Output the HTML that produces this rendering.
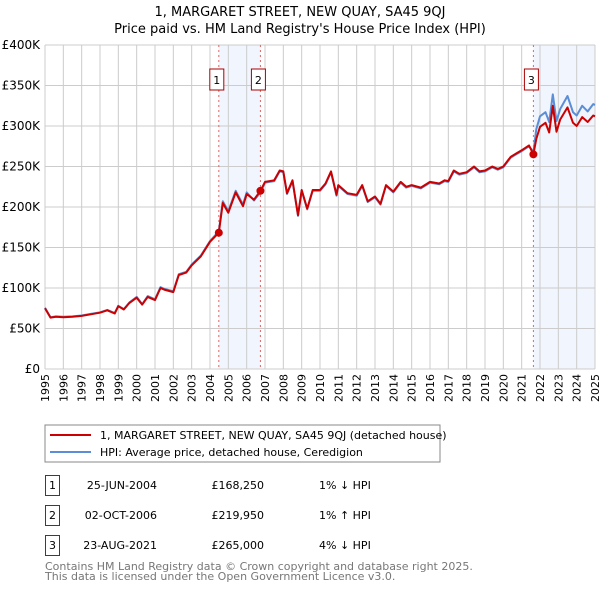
<!DOCTYPE html>
<html><head><meta charset="utf-8"><style>
body{margin:0;background:#fff;font-family:"DejaVu Sans","Liberation Sans",sans-serif;}
svg text{font-family:"DejaVu Sans","Liberation Sans",sans-serif;}
</style></head><body>
<svg id="chart" width="600" height="590" viewBox="0 0 600 590" xmlns="http://www.w3.org/2000/svg">
<text x="300" y="16" text-anchor="middle" font-size="13">1, MARGARET STREET, NEW QUAY, SA45 9QJ</text>
<text x="300" y="33" text-anchor="middle" font-size="13">Price paid vs. HM Land Registry's House Price Index (HPI)</text>
<g id="plot"></g>
<g>
<rect x="45" y="425" width="395" height="37" fill="#fff" stroke="#888" stroke-width="1"/>
<line x1="50" y1="435" x2="91" y2="435" stroke="#cc0000" stroke-width="2"/>
<text x="100" y="439" font-size="11">1, MARGARET STREET, NEW QUAY, SA45 9QJ (detached house)</text>
<line x1="50" y1="452" x2="91" y2="452" stroke="#5b8ed6" stroke-width="2"/>
<text x="100" y="456" font-size="11">HPI: Average price, detached house, Ceredigion</text>
</g>
<g font-size="11">
<rect x="45.5" y="475.5" width="14" height="20" fill="none" stroke="#cc0000"/><text x="52.5" y="489" text-anchor="middle">1</text>
<text x="157" y="489" text-anchor="end">25-JUN-2004</text><text x="264" y="489" text-anchor="end">£168,250</text><text x="319" y="489">1% ↓ HPI</text>
<rect x="45.5" y="505.5" width="14" height="20" fill="none" stroke="#cc0000"/><text x="52.5" y="519" text-anchor="middle">2</text>
<text x="157" y="519" text-anchor="end">02-OCT-2006</text><text x="264" y="519" text-anchor="end">£219,950</text><text x="319" y="519">1% ↑ HPI</text>
<rect x="45.5" y="535.5" width="14" height="20" fill="none" stroke="#cc0000"/><text x="52.5" y="549" text-anchor="middle">3</text>
<text x="157" y="549" text-anchor="end">23-AUG-2021</text><text x="264" y="549" text-anchor="end">£265,000</text><text x="319" y="549">4% ↓ HPI</text>
</g>
<text x="45" y="570" font-size="11" fill="#777">Contains HM Land Registry data © Crown copyright and database right 2025.</text>
<text x="45" y="580" font-size="11" fill="#777">This data is licensed under the Open Government Licence v3.0.</text>
</svg>
<script>
const yTicks=[0,50000,100000,150000,200000,250000,300000,350000,400000];
const yTickLabels=["£0","£50K","£100K","£150K","£200K","£250K","£300K","£350K","£400K"];
const xYears=[1995,1996,1997,1998,1999,2000,2001,2002,2003,2004,2005,2006,2007,2008,2009,2010,2011,2012,2013,2014,2015,2016,2017,2018,2019,2020,2021,2022,2023,2024,2025];
const saleDates=[2004.48,2006.75,2021.64];
const salePrices=[168250,219950,265000];
const saleLabels=["1","2","3"];
const hpiYears=[1995,1995.3,1995.6,1996,1996.5,1997,1997.5,1998,1998.4,1998.8,1999,1999.3,1999.6,2000,2000.3,2000.6,2001,2001.3,2001.5,2002,2002.3,2002.7,2003,2003.5,2004,2004.48,2004.7,2005,2005.4,2005.8,2006,2006.4,2006.75,2007,2007.5,2007.8,2008,2008.2,2008.5,2008.8,2009,2009.3,2009.6,2010,2010.3,2010.6,2010.9,2011,2011.5,2012,2012.3,2012.6,2013,2013.3,2013.6,2014,2014.4,2014.7,2015,2015.5,2016,2016.5,2016.8,2017,2017.3,2017.6,2018,2018.4,2018.7,2019,2019.4,2019.7,2020,2020.4,2020.7,2021,2021.4,2021.64,2021.8,2022,2022.3,2022.5,2022.7,2022.9,2023.1,2023.5,2023.8,2024,2024.3,2024.6,2024.9,2025];
const hpiValues=[75500,64000,65000,64500,65000,66000,68000,70000,73000,69000,78000,74000,82000,89000,80000,90000,86000,101000,99000,96000,117000,120000,129000,140000,158000,170000,207000,195000,220000,203000,218000,208000,218000,230000,232000,244000,243000,216000,232000,189000,220000,197000,220000,220000,228000,243000,214000,226000,216000,214000,226000,206000,212000,203000,226000,218000,230000,224000,226000,223000,230000,228000,232000,231000,244000,240000,242000,249000,243000,244000,249000,246000,249000,261000,265000,269000,275000,268000,296000,312000,317000,305000,339000,306000,321000,337000,317000,313000,325000,318000,327000,326000];
const priceValues=[75000,63500,64500,64000,64500,65500,67500,69500,72500,68500,77500,73500,81500,88000,79500,89000,85000,100000,98000,95000,116000,119000,128000,139000,157000,168250,205000,193000,218000,201000,216000,209000,219950,231000,233000,245000,244000,217000,233000,190000,221000,198000,221000,221000,229000,244000,215000,227000,217000,215000,227000,207000,213000,204000,227000,219000,231000,225000,227000,224000,231000,229000,233000,232000,245000,241000,243000,250000,244000,245000,250000,247000,250000,262000,266000,270000,276000,265000,284000,299000,304000,292000,325000,293000,308000,323000,304000,300000,311000,305000,313000,312000];

const NS="http://www.w3.org/2000/svg";
const L=45,R=595,T=45,B=369;
function xs(v){return L+(v-1995)/(2025-1995)*(R-L);}
function ys(v){return B-v/400000*(B-T);}
const g=document.getElementById('plot');
function mk(tag,attrs){const e=document.createElementNS(NS,tag);for(const k in attrs)e.setAttribute(k,attrs[k]);return e;}
for(let i=0;i<saleDates.length;i++){
  const end=i===0?saleDates[1]:(i===1?null:2025);
  if(end===null)continue;
  const b=mk('rect',{x:xs(saleDates[i]),y:T,width:xs(end)-xs(saleDates[i]),height:B-T,fill:'#eef3fc',opacity:0.8});
  
  
  g.appendChild(b);
}
yTicks.forEach((v,i)=>{
  const l=mk('line',{x1:L,x2:R,y1:ys(v),y2:ys(v),stroke:'#cccccc','stroke-width':1});
  
  
  g.appendChild(l);
  const t=mk('text',{x:L-5,y:ys(v)+4,'text-anchor':'end','font-size':12});
  
  
  t.textContent=yTickLabels[i];g.appendChild(t);
});
xYears.forEach(yr=>{
  const l=mk('line',{x1:xs(yr),x2:xs(yr),y1:T,y2:B,stroke:'#cccccc','stroke-width':1});
  
  
  g.appendChild(l);
  const tx=xs(yr)+4,ty=B+5;
  const t=mk('text',{x:tx,y:ty,'text-anchor':'end','font-size':11,transform:'rotate(-90 '+tx+' '+ty+')'});
  
  
  t.textContent=yr;g.appendChild(t);
});
saleDates.forEach((d,i)=>{
  const l=mk('line',{x1:xs(d),x2:xs(d),y1:T,y2:B,stroke:'#e06666','stroke-width':1,'stroke-dasharray':'2,3'});
  
  
  g.appendChild(l);
  const r=mk('rect',{x:xs(d)-9,y:69,width:14,height:21,fill:'#fff',stroke:'#aa0000','stroke-width':1});
  
  
  g.appendChild(r);
  const t=mk('text',{x:xs(d)-2,y:84,'text-anchor':'middle','font-size':11});
  
  
  t.textContent=saleLabels[i];g.appendChild(t);
});
function path(vals,color,name){
  const d=hpiYears.map((yr,i)=>(i?'L':'M')+xs(yr).toFixed(1)+','+ys(vals[i]).toFixed(1)).join('');
  const p=mk('path',{d:d,fill:'none',stroke:color,'stroke-width':2,'stroke-linejoin':'round'});
  
  
  g.appendChild(p);
}
path(hpiValues,'#5b8ed6','hpi-line');
path(priceValues,'#cc0000','price-line');
saleDates.forEach((d,i)=>{
  const c=mk('circle',{cx:xs(d),cy:ys(salePrices[i]),r:4,fill:'#cc0000'});
  
  
  g.appendChild(c);
});
</script>
</body></html>
